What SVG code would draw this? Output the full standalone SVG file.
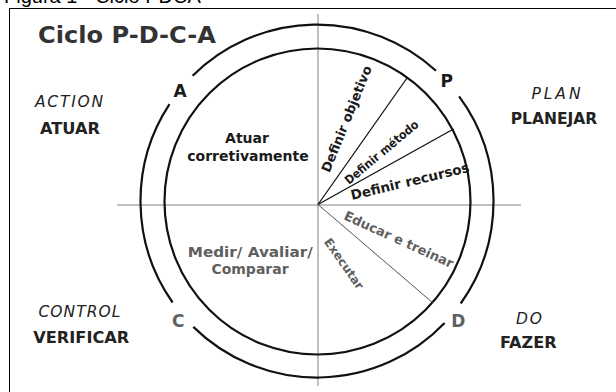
<svg xmlns="http://www.w3.org/2000/svg" width="616" height="392" viewBox="0 0 616 392">
<style>
.b{font-family:"DejaVu Sans",Verdana,sans-serif;font-weight:bold}
.it{font-family:"DejaVu Sans",Verdana,sans-serif;font-style:italic}
.dk{fill:#1a1a1a}
.gr{fill:#5f5f5f}
.ring{fill:none;stroke:#111;stroke-width:2.2}
.axis{stroke:#808080;stroke-width:1}
.ray{stroke:#111;stroke-width:1.3}
.ray2{stroke:#555;stroke-width:1}
</style>
<rect width="616" height="392" fill="#fff"/>
<text x="4" y="2.5" font-family="Liberation Sans, Arial, sans-serif" font-size="20" fill="#000">Figura 1 - Ciclo PDCA</text>
<rect x="9.5" y="8.5" width="700" height="500" fill="none" stroke="#000" stroke-width="1"/>

<g id="title">
<text class="b" x="38" y="42.5" font-size="23" fill="#333" textLength="178" lengthAdjust="spacingAndGlyphs">Ciclo P-D-C-A</text>
</g>

<g id="connectors">
<line class="axis" x1="318" y1="14" x2="318" y2="386"/>
<line class="axis" x1="117" y1="205" x2="521" y2="205"/>
<circle class="ring" cx="317.5" cy="201.5" r="153"/>
<path class="ring" d="M192.6,75.8 A176.5,176.5 0 0 1 436,70.7"/>
<path class="ring" d="M459.1,96.3 A176.5,176.5 0 0 1 460.7,303.5"/>
<path class="ring" d="M444.6,323 A176.5,176.5 0 0 1 193.3,326.9"/>
<path class="ring" d="M172.6,302.5 A176.5,176.5 0 0 1 169.5,104.1"/>
<line class="ray" x1="318" y1="204.5" x2="407" y2="78"/>
<line class="ray" x1="318" y1="204.5" x2="453.5" y2="129"/>
<line class="ray2" x1="318" y1="204.5" x2="433" y2="303"/>
</g>

<g id="act">
<text class="it" x="69" y="106.7" font-size="15.5" fill="#222" text-anchor="middle" textLength="68">ACTION</text>
<text class="b" x="70" y="133.5" font-size="15.5" fill="#222" text-anchor="middle" textLength="60" lengthAdjust="spacingAndGlyphs">ATUAR</text>
<text class="b dk" x="180" y="96.5" font-size="17" text-anchor="middle">A</text>
<g class="b dk" font-size="14" text-anchor="middle">
<text x="247" y="143.3">Atuar</text>
<text x="248" y="161">corretivamente</text>
</g>
</g>

<g id="plan">
<text class="it" x="556" y="99.3" font-size="15.5" fill="#222" text-anchor="middle" textLength="49">PLAN</text>
<text class="b" x="554" y="124" font-size="15.5" fill="#222" text-anchor="middle" textLength="86.6" lengthAdjust="spacingAndGlyphs">PLANEJAR</text>
<text class="b dk" x="446.7" y="87" font-size="17" text-anchor="middle">P</text>
<text class="b dk" font-size="13" transform="translate(329.5,173.3) rotate(-68)">Definir objetivo</text>
<text class="b dk" font-size="12" transform="translate(349,185) rotate(-40)" textLength="92" lengthAdjust="spacingAndGlyphs">Definir método</text>
<text class="b dk" font-size="13.5" transform="translate(352,200) rotate(-13.5)">Definir recursos</text>
</g>

<g id="do">
<text class="it" x="529" y="324.3" font-size="15.5" fill="#222" text-anchor="middle" textLength="26">DO</text>
<text class="b" x="528.3" y="348.3" font-size="15.5" fill="#222" text-anchor="middle" textLength="56.7" lengthAdjust="spacingAndGlyphs">FAZER</text>
<text class="b gr" x="458.3" y="326.5" font-size="17" text-anchor="middle">D</text>
<text class="b gr" font-size="13" transform="translate(343,219) rotate(24.5)">Educar e treinar</text>
<text class="b gr" font-size="12" transform="translate(323.5,241.7) rotate(55)">Executar</text>
</g>

<g id="check">
<text class="it" x="79.5" y="316.7" font-size="15.5" fill="#222" text-anchor="middle" textLength="82">CONTROL</text>
<text class="b" x="81.3" y="343.3" font-size="15.5" fill="#222" text-anchor="middle" textLength="96" lengthAdjust="spacingAndGlyphs">VERIFICAR</text>
<text class="b gr" x="178.3" y="326.5" font-size="17" text-anchor="middle">C</text>
<g class="b gr" font-size="14" text-anchor="middle">
<text x="250.3" y="256.7" textLength="125" lengthAdjust="spacingAndGlyphs">Medir/ Avaliar/</text>
<text x="250" y="274">Comparar</text>
</g>
</g>
</svg>
